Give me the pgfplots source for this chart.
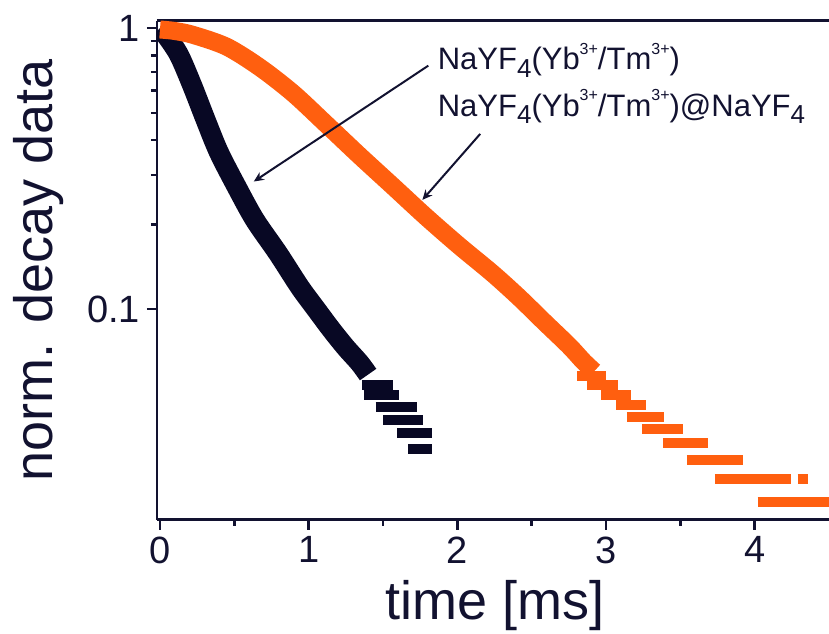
\documentclass[border=0pt]{standalone}
\usepackage{pgfplots}
\pgfplotsset{compat=1.18}
\usepackage{fontspec}
\setmainfont{Liberation Sans}
\usetikzlibrary{arrows.meta}

\definecolor{navy}{RGB}{18,18,48}
\definecolor{ink}{RGB}{8,8,36}
\definecolor{orng}{RGB}{255,95,15}

% chemical formula helpers
\newcommand{\sub}[1]{\raisebox{-3.8pt}{\fontsize{13}{13}\selectfont #1}}
\newcommand{\supx}[1]{\raisebox{7.8pt}{\fontsize{8}{8}\selectfont #1}}

\begin{document}
\begin{tikzpicture}
\begin{axis}[
    scale only axis,
    width=336pt, height=249.5pt,
    ymode=log,
    xmin=-0.02, xmax=4.5,
    ymin=0.0178, ymax=1.064,
    axis x line*=box, axis y line*=left,
    xtick={0,1,2,3,4}, minor x tick num=1,
    ytick={0.1,1}, yticklabels={0.1,1},
    xtick pos=bottom, ytick pos=left,
    tick align=outside,
    major tick length=5pt, minor tick length=3pt,
    axis line style={navy, line width=1.3pt},
    every tick/.style={navy, line width=1.2pt},
    ticklabel style={font=\fontsize{19}{19}\selectfont, text=navy},
    /pgf/number format/assume math mode=true,
    unbounded coords=jump,
]
% NaYF4(Yb/Tm) core, dense part
\addplot[ink, line width=10pt, line join=round, smooth, tension=0.5] coordinates {
    (0.00,1.00) (0.05,0.93) (0.13,0.80) (0.217,0.625)
    (0.307,0.472) (0.396,0.362) (0.515,0.273) (0.638,0.208) (0.794,0.158)
    (0.94,0.120) (1.05,0.100) (1.154,0.0844) (1.25,0.073) (1.342,0.0644)
    (1.40,0.0585)
};
% core, quantised tail
\addplot[ink, line width=5pt] coordinates {
    (1.362,0.0539) (1.564,0.0539) (1.564,nan)
    (1.369,0.0494) (1.611,0.0494) (1.611,nan)
    (1.450,0.0450) (1.732,0.0450) (1.732,nan)
    (1.503,0.0404) (1.772,0.0404) (1.772,nan)
    (1.597,0.0361) (1.832,0.0361) (1.832,nan)
    (1.671,0.0318) (1.832,0.0318)
};
% NaYF4(Yb/Tm)@NaYF4 core-shell, dense part
\addplot[orng, line width=9pt, line join=round, smooth, tension=0.5] coordinates {
    (0.00,0.99) (0.10,0.978) (0.223,0.947) (0.448,0.860) (0.671,0.726)
    (0.895,0.587) (1.119,0.455) (1.342,0.352) (1.566,0.274) (1.790,0.213)
    (2.013,0.168) (2.237,0.134) (2.416,0.110) (2.584,0.0901) (2.752,0.0740)
    (2.850,0.0650) (2.920,0.0600)
};
% core-shell, quantised tail
\addplot[orng, line width=5pt] coordinates {
    (2.805,0.0578) (3.000,0.0578) (3.000,nan)
    (2.872,0.0537) (3.081,0.0537) (3.081,nan)
    (2.964,0.0494) (3.166,0.0494) (3.166,nan)
    (3.067,0.0455) (3.268,0.0455) (3.268,nan)
    (3.141,0.0413) (3.389,0.0413) (3.389,nan)
    (3.242,0.0373) (3.517,0.0373) (3.517,nan)
    (3.383,0.0334) (3.685,0.0334) (3.685,nan)
    (3.544,0.0291) (3.919,0.0291) (3.919,nan)
    (3.732,0.0249) (4.242,0.0249) (4.242,nan)
    (4.289,0.0249) (4.362,0.0249) (4.362,nan)
    (4.020,0.0206) (4.600,0.0206)
};

\node[anchor=base west, inner sep=0, text=navy, font=\fontsize{15.5}{15.5}\selectfont]
    at (axis cs:1.866,0.711) {NaYF\sub{4}(Yb\supx{3+}/Tm\supx{3+})};
\node[anchor=base west, inner sep=0, text=navy, font=\fontsize{15.5}{15.5}\selectfont]
    at (axis cs:1.866,0.487) {NaYF\sub{4}(Yb\supx{3+}/Tm\supx{3+})@NaYF\sub{4}};
\draw[navy, line width=1pt, -{Stealth[length=5pt, width=4.5pt]}]
    (axis cs:1.805,0.736) -- (axis cs:0.631,0.2847);
\draw[navy, line width=1pt, -{Stealth[length=5pt, width=4.5pt]}]
    (axis cs:2.154,0.4206) -- (axis cs:1.765,0.2449);
\end{axis}

\node[rotate=90, anchor=base, text=navy, font=\fontsize{27}{27}\selectfont]
    at ([xshift=-52pt]current axis.west) {norm. decay data};
\node[anchor=base, text=navy, font=\fontsize{27}{27}\selectfont]
    at ([xshift=1pt, yshift=-50pt]current axis.south) {time [ms]};

\pgfresetboundingbox
\path[use as bounding box]
    ([shift={(-78.5pt,-57pt)}]current axis.south west)
    rectangle ([shift={(0pt,10.35pt)}]current axis.north east);
\end{tikzpicture}
\end{document}
